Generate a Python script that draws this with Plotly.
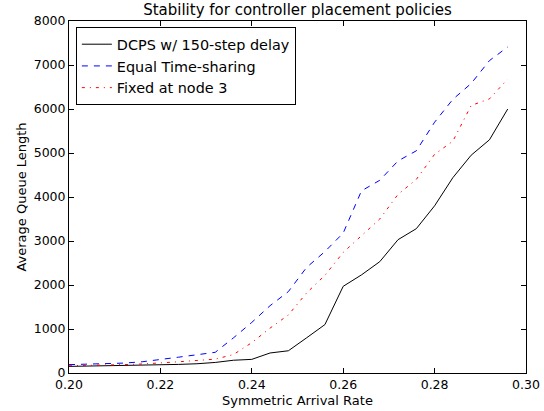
import plotly.graph_objects as go

arrival_rate = [0.200, 0.204, 0.208, 0.212, 0.216, 0.220, 0.224, 0.228, 0.232, 0.236,
                0.240, 0.244, 0.248, 0.252, 0.256, 0.260, 0.264, 0.268, 0.272, 0.276,
                0.280, 0.284, 0.288, 0.292, 0.296]

dcps_delay = [150, 155, 160, 165, 175, 185, 195, 210, 240, 290,
              310, 455, 505, 800, 1100, 1970, 2230, 2530, 3030, 3280,
              3800, 4440, 4950, 5300, 6000]

equal_sharing = [190, 200, 215, 225, 255, 300, 360, 415, 470, 800,
                 1150, 1530, 1850, 2400, 2760, 3180, 4140, 4380, 4820, 5050,
                 5700, 6220, 6580, 7100, 7410]

fixed_node3 = [165, 170, 180, 190, 205, 225, 255, 285, 315, 420,
               690, 1020, 1320, 1820, 2220, 2740, 3130, 3500, 4060, 4400,
               4970, 5270, 6080, 6230, 6680]

series_names = ["DCPS w/ 150-step delay", "Equal Time-sharing", "Fixed at node 3"]
x_ticks = [0.20, 0.22, 0.24, 0.26, 0.28, 0.30]
y_ticks = [0, 1000, 2000, 3000, 4000, 5000, 6000, 7000, 8000]

font = "DejaVu Sans"

fig = go.Figure()
fig.add_trace(go.Scatter(x=arrival_rate, y=dcps_delay, mode="lines", name=series_names[0],
                         line=dict(color="#000000", width=1)))
fig.add_trace(go.Scatter(x=arrival_rate, y=equal_sharing, mode="lines", name=series_names[1],
                         line=dict(color="#0000ff", width=1, dash="6px,6px")))
fig.add_trace(go.Scatter(x=arrival_rate, y=fixed_node3, mode="lines", name=series_names[2],
                         line=dict(color="#ff0000", width=1, dash="3px,5px,1px,5px")))

axis_common = dict(showline=True, linecolor="#000000", linewidth=1, mirror="allticks",
                   ticks="inside", ticklen=5, tickcolor="#000000", showgrid=False,
                   zeroline=False, automargin=False,
                   tickfont=dict(family=font, size=12.5, color="#000000"))

fig.update_layout(
    width=544, height=411,
    margin=dict(l=69, r=18, t=21, b=38),
    paper_bgcolor="white", plot_bgcolor="white",
    title=dict(text="Stability for controller placement policies", x=0.5, xref="paper",
               xanchor="center", yref="container", y=0.976, yanchor="middle",
               font=dict(family=font, size=15, color="#000000")),
    xaxis=dict(range=[0.20, 0.30], tickvals=x_ticks, tickformat=".2f",
               title=dict(text="Symmetric Arrival Rate", standoff=4,
                          font=dict(family=font, size=13, color="#000000")),
               **axis_common),
    yaxis=dict(range=[0, 8000], tickvals=y_ticks, tickformat="d",
               title=dict(text="Average Queue Length", standoff=4,
                          font=dict(family=font, size=13, color="#000000")),
               **axis_common),
    legend=dict(x=0.015, y=0.982, xanchor="left", yanchor="top",
                bordercolor="#000000", borderwidth=1, bgcolor="white",
                font=dict(family=font, size=14.4, color="#000000"),
                tracegroupgap=0),
    showlegend=True,
)

fig.write_html("out.html",
               config={"displayModeBar": False},
               post_script="document.body.style.margin='0px';document.body.style.overflow='hidden';")
